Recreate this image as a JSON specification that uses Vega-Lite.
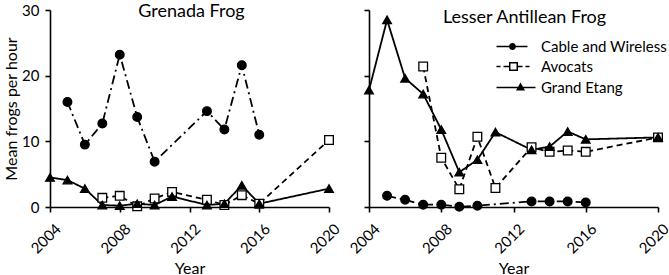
{
  "$schema": "https://vega.github.io/schema/vega-lite/v6.json",
  "padding": {"left": 3, "top": 3, "right": 0, "bottom": 0},
  "background": "white",
  "config": {
    "view": {"stroke": null},
    "font": "Lato",
    "axis": {
      "domainColor": "black",
      "domainWidth": 1.6,
      "tickColor": "black",
      "tickWidth": 1.6,
      "tickSize": 5,
      "labelColor": "black",
      "labelFont": "Lato",
      "labelFontSize": 15,
      "titleColor": "black",
      "titleFont": "Lato",
      "titleFontSize": 16,
      "titleFontWeight": "normal",
      "grid": false
    },
    "title": {"font": "Lato", "fontSize": 18, "fontWeight": "normal", "color": "black", "anchor": "middle", "frame": "group"}
  },
  "data": {
    "values": [
      {"species": "Grenada Frog", "site": "Cable and Wireless", "year": 2005, "value": 16.0},
      {"species": "Grenada Frog", "site": "Cable and Wireless", "year": 2006, "value": 9.5},
      {"species": "Grenada Frog", "site": "Cable and Wireless", "year": 2007, "value": 12.7},
      {"species": "Grenada Frog", "site": "Cable and Wireless", "year": 2008, "value": 23.2},
      {"species": "Grenada Frog", "site": "Cable and Wireless", "year": 2009, "value": 13.7},
      {"species": "Grenada Frog", "site": "Cable and Wireless", "year": 2010, "value": 6.9},
      {"species": "Grenada Frog", "site": "Cable and Wireless", "year": 2013, "value": 14.6},
      {"species": "Grenada Frog", "site": "Cable and Wireless", "year": 2014, "value": 11.8},
      {"species": "Grenada Frog", "site": "Cable and Wireless", "year": 2015, "value": 21.6},
      {"species": "Grenada Frog", "site": "Cable and Wireless", "year": 2016, "value": 11.0},
      {"species": "Grenada Frog", "site": "Avocats", "year": 2007, "value": 1.4},
      {"species": "Grenada Frog", "site": "Avocats", "year": 2008, "value": 1.7},
      {"species": "Grenada Frog", "site": "Avocats", "year": 2009, "value": 0.1},
      {"species": "Grenada Frog", "site": "Avocats", "year": 2010, "value": 1.3},
      {"species": "Grenada Frog", "site": "Avocats", "year": 2011, "value": 2.3},
      {"species": "Grenada Frog", "site": "Avocats", "year": 2013, "value": 1.1},
      {"species": "Grenada Frog", "site": "Avocats", "year": 2014, "value": 0.3},
      {"species": "Grenada Frog", "site": "Avocats", "year": 2015, "value": 1.8},
      {"species": "Grenada Frog", "site": "Avocats", "year": 2016, "value": 0.5},
      {"species": "Grenada Frog", "site": "Avocats", "year": 2020, "value": 10.2},
      {"species": "Grenada Frog", "site": "Grand Etang", "year": 2004, "value": 4.5},
      {"species": "Grenada Frog", "site": "Grand Etang", "year": 2005, "value": 4.1},
      {"species": "Grenada Frog", "site": "Grand Etang", "year": 2006, "value": 2.8},
      {"species": "Grenada Frog", "site": "Grand Etang", "year": 2007, "value": 0.3},
      {"species": "Grenada Frog", "site": "Grand Etang", "year": 2008, "value": 0.2},
      {"species": "Grenada Frog", "site": "Grand Etang", "year": 2009, "value": 0.5},
      {"species": "Grenada Frog", "site": "Grand Etang", "year": 2010, "value": 0.3},
      {"species": "Grenada Frog", "site": "Grand Etang", "year": 2011, "value": 1.6},
      {"species": "Grenada Frog", "site": "Grand Etang", "year": 2013, "value": 0.3},
      {"species": "Grenada Frog", "site": "Grand Etang", "year": 2014, "value": 0.5},
      {"species": "Grenada Frog", "site": "Grand Etang", "year": 2015, "value": 3.3},
      {"species": "Grenada Frog", "site": "Grand Etang", "year": 2016, "value": 0.5},
      {"species": "Grenada Frog", "site": "Grand Etang", "year": 2020, "value": 2.8},
      {"species": "Lesser Antillean Frog", "site": "Cable and Wireless", "year": 2005, "value": 1.7},
      {"species": "Lesser Antillean Frog", "site": "Cable and Wireless", "year": 2006, "value": 1.1},
      {"species": "Lesser Antillean Frog", "site": "Cable and Wireless", "year": 2007, "value": 0.35},
      {"species": "Lesser Antillean Frog", "site": "Cable and Wireless", "year": 2008, "value": 0.35},
      {"species": "Lesser Antillean Frog", "site": "Cable and Wireless", "year": 2009, "value": 0.05},
      {"species": "Lesser Antillean Frog", "site": "Cable and Wireless", "year": 2010, "value": 0.2},
      {"species": "Lesser Antillean Frog", "site": "Cable and Wireless", "year": 2013, "value": 0.85},
      {"species": "Lesser Antillean Frog", "site": "Cable and Wireless", "year": 2014, "value": 0.85},
      {"species": "Lesser Antillean Frog", "site": "Cable and Wireless", "year": 2015, "value": 0.85},
      {"species": "Lesser Antillean Frog", "site": "Cable and Wireless", "year": 2016, "value": 0.7},
      {"species": "Lesser Antillean Frog", "site": "Avocats", "year": 2007, "value": 21.4},
      {"species": "Lesser Antillean Frog", "site": "Avocats", "year": 2008, "value": 7.5},
      {"species": "Lesser Antillean Frog", "site": "Avocats", "year": 2009, "value": 2.7},
      {"species": "Lesser Antillean Frog", "site": "Avocats", "year": 2010, "value": 10.7},
      {"species": "Lesser Antillean Frog", "site": "Avocats", "year": 2011, "value": 2.9},
      {"species": "Lesser Antillean Frog", "site": "Avocats", "year": 2013, "value": 9.1},
      {"species": "Lesser Antillean Frog", "site": "Avocats", "year": 2014, "value": 8.4},
      {"species": "Lesser Antillean Frog", "site": "Avocats", "year": 2015, "value": 8.6},
      {"species": "Lesser Antillean Frog", "site": "Avocats", "year": 2016, "value": 8.4},
      {"species": "Lesser Antillean Frog", "site": "Avocats", "year": 2020, "value": 10.6},
      {"species": "Lesser Antillean Frog", "site": "Grand Etang", "year": 2004, "value": 17.8},
      {"species": "Lesser Antillean Frog", "site": "Grand Etang", "year": 2005, "value": 28.5},
      {"species": "Lesser Antillean Frog", "site": "Grand Etang", "year": 2006, "value": 19.6},
      {"species": "Lesser Antillean Frog", "site": "Grand Etang", "year": 2007, "value": 17.2},
      {"species": "Lesser Antillean Frog", "site": "Grand Etang", "year": 2008, "value": 11.8},
      {"species": "Lesser Antillean Frog", "site": "Grand Etang", "year": 2009, "value": 5.3},
      {"species": "Lesser Antillean Frog", "site": "Grand Etang", "year": 2010, "value": 7.2},
      {"species": "Lesser Antillean Frog", "site": "Grand Etang", "year": 2011, "value": 11.4},
      {"species": "Lesser Antillean Frog", "site": "Grand Etang", "year": 2013, "value": 8.7},
      {"species": "Lesser Antillean Frog", "site": "Grand Etang", "year": 2014, "value": 9.2},
      {"species": "Lesser Antillean Frog", "site": "Grand Etang", "year": 2015, "value": 11.5},
      {"species": "Lesser Antillean Frog", "site": "Grand Etang", "year": 2016, "value": 10.3},
      {"species": "Lesser Antillean Frog", "site": "Grand Etang", "year": 2020, "value": 10.6}
    ]
  },
  "bounds": "flush",
  "spacing": 40,
  "resolve": {"scale": {"shape": "independent", "fill": "independent", "strokeDash": "independent"}},
  "hconcat": [
    {
      "width": 279,
      "height": 197,
      "title": {"text": "Grenada Frog", "offset": -18, "dx": 2},
      "transform": [{"filter": "datum.species === 'Grenada Frog'"}],
      "layer": [
        {
          "mark": {"type": "line", "color": "black", "strokeWidth": 1.8},
          "encoding": {
            "x": {"field": "year", "type": "quantitative", "scale": {"domain": [2004, 2020], "nice": false, "zero": false},
              "axis": {"title": "Year", "values": [2004, 2008, 2012, 2016, 2020], "format": "d", "labelAngle": -45, "labelFontSize": 15, "labelPadding": 9, "labelOffset": 3, "titlePadding": 4,
                "encode": {"ticks": {"update": {"y": {"value": -5}}}}}},
            "y": {"field": "value", "type": "quantitative", "scale": {"domain": [0, 30], "nice": false},
              "axis": {"title": "Mean frogs per hour", "values": [0, 5, 10, 15, 20, 25, 30], "labelPadding": 6, "titlePadding": 2,
                "encode": {"ticks": {"update": {"x": {"value": 5}}}}}},
            "strokeDash": {"field": "site", "type": "nominal", "legend": null,
              "scale": {"range": [[6, 4], [9, 4, 2, 4], [1, 0]]}}
          }
        },
        {
          "mark": {"type": "point", "filled": true, "stroke": "black", "strokeWidth": 1.3, "size": 75, "opacity": 1},
          "encoding": {
            "x": {"field": "year", "type": "quantitative"},
            "y": {"field": "value", "type": "quantitative"},
            "shape": {"condition": [{"test": "datum.site === 'Cable and Wireless'", "value": "circle"}, {"test": "datum.site === 'Avocats'", "value": "square"}], "value": "triangle-up"},
            "fill": {"condition": {"test": "datum.site === 'Avocats'", "value": "white"}, "value": "black"}
          }
        }
      ]
    },
    {
      "width": 289,
      "height": 197,
      "title": {"text": "Lesser Antillean Frog", "offset": -18, "dx": 11},
      "transform": [{"filter": "datum.species === 'Lesser Antillean Frog'"}],
      "layer": [
        {
          "mark": {"type": "line", "color": "black", "strokeWidth": 1.8},
          "encoding": {
            "x": {"field": "year", "type": "quantitative", "scale": {"domain": [2004, 2020], "nice": false, "zero": false},
              "axis": {"title": "Year", "values": [2004, 2008, 2012, 2016, 2020], "format": "d", "labelAngle": -45, "labelFontSize": 15, "labelPadding": 9, "labelOffset": 3, "titlePadding": 4,
                "encode": {"ticks": {"update": {"y": {"value": -5}}}}}},
            "y": {"field": "value", "type": "quantitative", "scale": {"domain": [0, 30], "nice": false},
              "axis": {"title": null, "labels": false, "values": [0, 5, 10, 15, 20, 25, 30],
                "encode": {"ticks": {"update": {"x": {"value": 5}}}}}},
            "strokeDash": {"field": "site", "type": "nominal", "legend": null,
              "scale": {"range": [[6, 4], [9, 4, 2, 4], [1, 0]]}}
          }
        },
        {
          "mark": {"type": "point", "filled": true, "stroke": "black", "strokeWidth": 1.3, "size": 75, "opacity": 1},
          "encoding": {
            "x": {"field": "year", "type": "quantitative"},
            "y": {"field": "value", "type": "quantitative"},
            "shape": {"condition": [{"test": "datum.site === 'Cable and Wireless'", "value": "circle"}, {"test": "datum.site === 'Avocats'", "value": "square"}], "value": "triangle-up"},
            "fill": {"condition": {"test": "datum.site === 'Avocats'", "value": "white"}, "value": "black"}
          }
        },
        {
          "transform": [{"filter": "datum.value < 0"}],
          "mark": {"type": "point", "filled": true, "stroke": "black", "strokeWidth": 1.5, "size": 4, "opacity": 1},
          "encoding": {
            "x": {"field": "year", "type": "quantitative"},
            "y": {"field": "value", "type": "quantitative"},
            "shape": {"field": "site", "type": "nominal",
              "scale": {
                "domain": ["Cable and Wireless", "Avocats", "Grand Etang"],
                "range": [
                  "M-19,-0.8H-6.5V0.8H-19ZM0.5,-0.8H12V0.8H0.5ZM-6.5,0A3.5,3.5 0 1,1 0.5,0A3.5,3.5 0 1,1 -6.5,0Z",
                  "M-19,-0.8H-15V0.8H-19ZM-12,-0.8H-6.5V0.8H-12ZM2.5,-0.8H7V0.8H2.5ZM10,-0.8H14V0.8H10ZM-6.5,-4.5H2.5V4.5H-6.5ZM-5,-3V3H1V-3Z",
                  "M-19,-0.8H20V0.8H-19ZM0.5,3L5,-5L9.5,3Z"
                ]
              },
              "legend": {
                "title": null,
                "orient": "none",
                "legendX": 139,
                "legendY": 29,
                "padding": 0,
                "symbolSize": 4,
                "symbolOpacity": 1,
                "symbolStrokeColor": "black",
                "symbolStrokeWidth": 1.5,
                "labelOffset": 18,
                "labelFont": "Lato",
                "labelFontSize": 15,
                "labelColor": "black",
                "rowPadding": 4
              }},
            "fill": {"field": "site", "type": "nominal",
              "scale": {"domain": ["Cable and Wireless", "Avocats", "Grand Etang"], "range": ["black", "black", "black"]},
              "legend": {"title": null}}
          }
        }
      ]
    }
  ]
}
